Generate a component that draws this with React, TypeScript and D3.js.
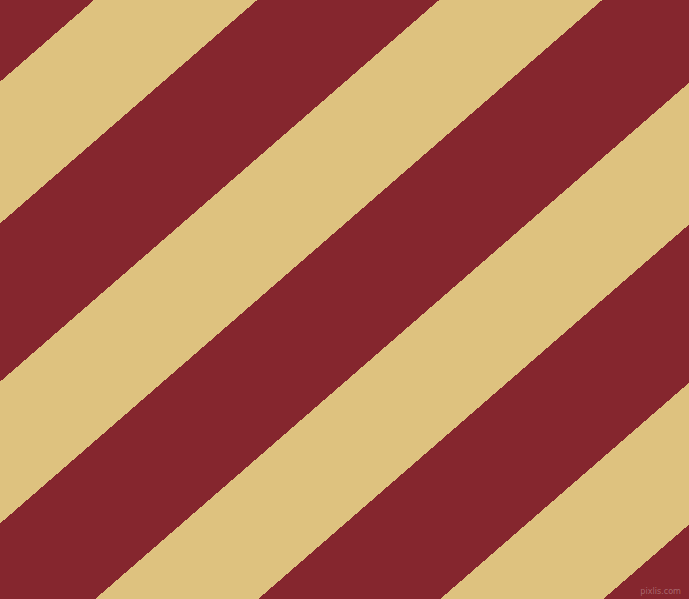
import React, { useEffect, useRef } from 'react';
import * as d3 from 'd3';

const WIDTH = 689;
const HEIGHT = 599;

// stripe pattern values
const stripeAngle = [49]; // degrees, normal of the stripes (stripes run at 41°)
const bandNames = ['tan', 'red'];
const bandWidths = [107, 119.4];
const bandColors = ['#dec27f', '#85262e'];
const firstOffset = [61.7];
const stripeIndex = [0, 1, 2, 3, 4];

const App: React.FC = () => {
  const svgRef = useRef<SVGSVGElement | null>(null);

  useEffect(() => {
    if (!svgRef.current) return;
    const svg = d3.select(svgRef.current);
    svg.selectAll('*').remove();

    svg.attr('width', WIDTH).attr('height', HEIGHT).attr('viewBox', `0 0 ${WIDTH} ${HEIGHT}`);

    svg
      .append('rect')
      .attr('width', WIDTH)
      .attr('height', HEIGHT)
      .attr('fill', bandColors[1]);

    const period = d3.sum(bandWidths);
    const u = d3
      .scaleLinear()
      .domain([0, 1])
      .range([firstOffset[0], firstOffset[0] + period]);

    const g = svg.append('g').attr('transform', `rotate(${stripeAngle[0]})`);

    g.selectAll('rect.band')
      .data(stripeIndex)
      .enter()
      .append('rect')
      .attr('class', 'band')
      .attr('x', (d) => u(d))
      .attr('y', -1500)
      .attr('width', bandWidths[0])
      .attr('height', 3000)
      .attr('fill', bandColors[bandNames.indexOf('tan')])
      .attr('shape-rendering', 'crispEdges');

    // watermark
    svg
      .append('text')
      .attr('x', 681)
      .attr('y', 594)
      .attr('text-anchor', 'end')
      .attr('fill', '#ffffff')
      .attr('fill-opacity', 0.3)
      .style('font-family', '"DejaVu Sans Condensed", "DejaVu Sans", sans-serif')
      .style('font-size', '9px')
      .text('pixlis.com');
  }, []);

  return (
    <div style={{ position: 'fixed', left: 0, top: 0, width: WIDTH, height: HEIGHT, overflow: 'hidden' }}>
      <svg ref={svgRef} style={{ display: 'block' }} />
    </div>
  );
};

export default App;
